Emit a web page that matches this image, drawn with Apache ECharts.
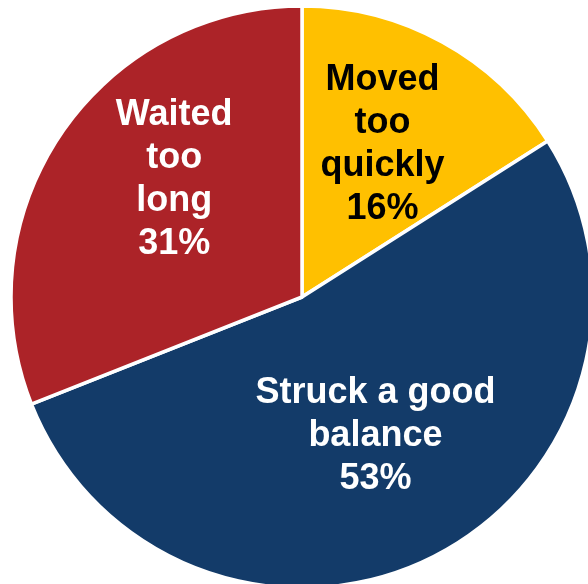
<!DOCTYPE html>
<html>
<head>
<meta charset="utf-8">
<script src="https://cdn.jsdelivr.net/npm/echarts@6/dist/echarts.min.js"></script>
<style>
  html, body { margin: 0; padding: 0; background: #fff; }
  #main { width: 588px; height: 584px; }
</style>
</head>
<body>
<div id="main"></div>
<script>
// slice data, clockwise from 12 o'clock
var categories = ['Moved\ntoo\nquickly', 'Struck a good\nbalance', 'Waited\ntoo\nlong'];
var shares = [16, 53, 31];
var sliceColors = ['#FFC000', '#133B69', '#AC2328'];
var labelColors = ['#000000', '#ffffff', '#ffffff'];
var labelOffsets = [[9, -22], [6, 7], [-5, -34]];

var myChart = echarts.init(document.getElementById('main'));

var option = {
    animation: false,
    series: [
        {
            type: 'pie',
            center: [302, 297],
            radius: [0, 291],
            startAngle: 90,
            clockwise: true,
            silent: true,
            itemStyle: {
                borderColor: '#ffffff',
                borderWidth: 3.5
            },
            label: {
                show: true,
                position: 'inside',
                fontFamily: 'Liberation Sans, Arial, sans-serif',
                fontWeight: 'bold',
                fontSize: 36,
                lineHeight: 43,
                align: 'center',
                formatter: function (p) {
                    return p.name + '\n' + p.value + '%';
                }
            },
            labelLine: { show: false },
            data: function () {
                var list = [];
                for (var i = 0; i < categories.length; i++) {
                    list.push({
                        name: categories[i],
                        value: shares[i],
                        itemStyle: { color: sliceColors[i] },
                        label: { color: labelColors[i], offset: labelOffsets[i] }
                    });
                }
                return list;
            }()
        }
    ]
};
myChart.setOption(option, true);
</script>
</body>
</html>
